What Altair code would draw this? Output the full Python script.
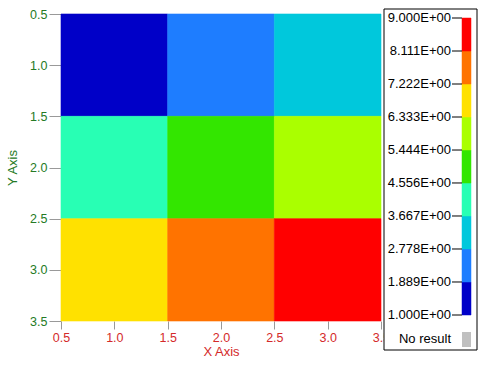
import altair as alt
import pandas as pd

# ---- data ----
x_centers = [1, 2, 3, 1, 2, 3, 1, 2, 3]
y_centers = [1, 1, 1, 2, 2, 2, 3, 3, 3]
cell_values = [1, 2, 3, 4, 5, 6, 7, 8, 9]

bin_edges = [1.000, 1.889, 2.778, 3.667, 4.556, 5.444, 6.333, 7.222, 8.111, 9.000]
bin_labels = ["1.000E+00", "1.889E+00", "2.778E+00", "3.667E+00", "4.556E+00",
              "5.444E+00", "6.333E+00", "7.222E+00", "8.111E+00", "9.000E+00"]
bin_colors = ["#0000C8", "#1E7DFF", "#00C8DC", "#28FFB4", "#33E600",
              "#AAFF00", "#FFE100", "#FF7300", "#FF0000"]
axis_ticks = [0.5, 1.0, 1.5, 2.0, 2.5, 3.0, 3.5]
no_result_label = ["No result"]

cells = pd.DataFrame({"x": x_centers, "y": y_centers, "value": cell_values})
bins = pd.DataFrame({"lo": bin_edges[:-1], "hi": bin_edges[1:], "color": bin_colors})
labels = pd.DataFrame({"v": bin_edges, "label": bin_labels})
nores = pd.DataFrame({"label": no_result_label})

GREEN = "#257A25"
RED = "#D42A2A"
FONT = "Liberation Sans"

color_scale = alt.Scale(type="threshold", domain=bin_edges[1:-1], range=bin_colors)

heat = alt.Chart(cells).transform_calculate(
    x0="datum.x - 0.5", x1="datum.x + 0.5", y0="datum.y - 0.5", y1="datum.y + 0.5"
).mark_rect(strokeWidth=0.6).encode(
    x=alt.X("x0:Q", scale=alt.Scale(domain=[0.5, 3.5], nice=False, zero=False),
            axis=alt.Axis(values=axis_ticks, format=".1f", title="X Axis", grid=False,
                          domain=False, tickColor="#999999", tickSize=8,
                          labelColor=RED, titleColor=RED, labelFont=FONT, titleFont=FONT,
                          labelFontSize=12.5, titleFontSize=13, titleFontWeight="normal",
                          labelPadding=2, titlePadding=2, labelFlush=False)),
    x2="x1:Q",
    y=alt.Y("y0:Q", scale=alt.Scale(domain=[0.5, 3.5], nice=False, zero=False, reverse=True),
            axis=alt.Axis(values=axis_ticks, format=".1f", title="Y Axis", grid=False,
                          domain=False, tickColor="#999999", tickSize=12,
                          labelColor=GREEN, titleColor=GREEN, labelFont=FONT, titleFont=FONT,
                          labelFontSize=12.5, titleFontSize=13, titleFontWeight="normal",
                          labelPadding=2, titlePadding=10, labelFlush=False)),
    y2="y1:Q",
    color=alt.Color("value:Q", scale=color_scale, legend=None),
    stroke=alt.Color("value:Q", scale=color_scale, legend=None),
)

# legend frame
frame = alt.Chart(nores).mark_rect(fill="white", stroke="black", strokeWidth=1).encode(
    x=alt.value(323), x2=alt.value(416), y=alt.value(-5), y2=alt.value(336)
)

leg_y = alt.Scale(domain=[1, 9], range=[301, 4], nice=False, zero=False)

colorbar = alt.Chart(bins).mark_rect(strokeWidth=0.5).encode(
    x=alt.value(401), x2=alt.value(410),
    y=alt.Y("lo:Q", scale=leg_y, axis=None), y2="hi:Q",
    color=alt.Color("color:N", scale=None, legend=None),
    stroke=alt.Color("color:N", scale=None, legend=None),
)

leg_ticks = alt.Chart(labels).mark_rule(color="black", strokeWidth=1).encode(
    x=alt.value(391), x2=alt.value(401),
    y=alt.Y("v:Q", scale=leg_y, axis=None),
)

leg_text = alt.Chart(labels).mark_text(align="right", baseline="middle", font=FONT,
                                       fontSize=13, color="black").encode(
    x=alt.value(390), y=alt.Y("v:Q", scale=leg_y, axis=None), text="label:N"
)

nores_text = alt.Chart(nores).mark_text(align="right", baseline="middle", font=FONT,
                                        fontSize=13, color="black").encode(
    x=alt.value(390), y=alt.value(325), text="label:N"
)
nores_box = alt.Chart(nores).mark_rect(fill="#C0C0C0").encode(
    x=alt.value(401), x2=alt.value(410), y=alt.value(318), y2=alt.value(333)
)

chart = alt.layer(
    heat, frame, colorbar, leg_ticks, leg_text, nores_text, nores_box
).resolve_scale(
    x="independent", y="independent", color="independent", stroke="independent"
).properties(
    width=320, height=307,
    autosize=alt.AutoSizeParams(type="none"),
    padding={"left": 61, "top": 14, "right": 99, "bottom": 56},
    background="white",
).configure_view(stroke=None)

chart.save("out.html", embed_options={"renderer": "svg", "actions": False})
